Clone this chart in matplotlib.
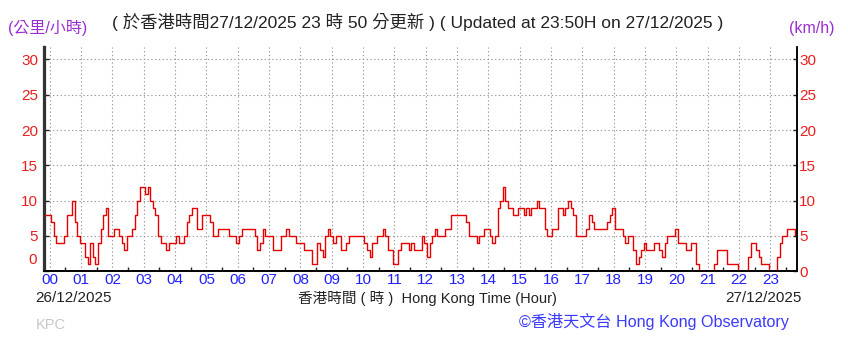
import numpy as np
import matplotlib
matplotlib.use('Agg')
import matplotlib.pyplot as plt
from matplotlib.ticker import FuncFormatter

# wind speed (km/h), 5-minute readings from 23:50 on 26/12 to 23:50 on 27/12
start_min = -10
step_min = 5
speed = [
    8, 8,
    8, 7, 5, 4, 4, 4, 5, 8, 8, 10, 7, 5,      # 00
    4, 4, 2, 1, 4, 2, 1, 4, 6, 8, 9, 5,       # 01
    5, 6, 6, 5, 4, 3, 5, 5, 6, 8, 10, 12,     # 02
    12, 11, 12, 10, 9, 8, 5, 4, 4, 3, 4, 4,   # 03
    4, 5, 4, 4, 5, 7, 8, 9, 9, 6, 6, 8,       # 04
    8, 8, 7, 5, 5, 6, 6, 6, 6, 5, 5, 5,       # 05
    4, 5, 6, 6, 6, 6, 6, 5, 3, 4, 6, 5,       # 06
    5, 5, 3, 3, 3, 5, 5, 6, 5, 5, 5, 4,       # 07
    4, 4, 3, 3, 3, 1, 1, 4, 3, 2, 5, 6,       # 08
    5, 4, 5, 5, 3, 3, 4, 5, 5, 5, 5, 5,       # 09
    5, 4, 3, 2, 4, 4, 5, 5, 6, 5, 3, 3,       # 10
    1, 1, 3, 4, 4, 4, 3, 4, 3, 3, 3, 5,       # 11
    4, 2, 4, 5, 6, 5, 5, 5, 6, 6, 8, 8,       # 12
    8, 8, 8, 8, 7, 5, 5, 5, 4, 5, 5, 6,       # 13
    6, 5, 4, 5, 9, 10, 12, 10, 9, 9, 8, 8,    # 14
    9, 9, 8, 9, 8, 9, 9, 10, 9, 9, 6, 5,      # 15
    5, 6, 6, 9, 9, 8, 9, 10, 9, 8, 5, 5,      # 16
    5, 5, 6, 8, 7, 6, 6, 6, 6, 6, 7, 8,       # 17
    9, 6, 6, 6, 5, 4, 5, 5, 3, 1, 2, 3,       # 18
    4, 3, 3, 3, 4, 4, 3, 2, 4, 5, 5, 5,       # 19
    6, 4, 4, 4, 3, 3, 4, 4, 1, 0, 0, 0,       # 20
    0, 0, 0, 1, 3, 3, 3, 3, 1, 1, 1, 1,       # 21
    0, 0, 0, 0, 2, 4, 4, 3, 2, 1, 1, 1,       # 22
    0, 0, 0, 2, 4, 5, 5, 6, 6, 6, 5,          # 23
]
hour_labels = ['%02d' % h for h in range(24)]
y_ticks = [0, 5, 10, 15, 20, 25, 30]

title = '( 於香港時間27/12/2025 23 時 50 分更新 ) ( Updated at 23:50H on 27/12/2025 )'
unit_left = '(公里/小時)'
unit_right = '(km/h)'
xlabel = '香港時間 ( 時 )  Hong Kong Time (Hour)'
date_left = '26/12/2025'
date_right = '27/12/2025'
credit = '©香港天文台 Hong Kong Observatory'

fam = ['Liberation Sans Narrow', 'Liberation Sans', 'Noto Sans CJK TC', 'DejaVu Sans']
plt.rcParams['font.family'] = fam

red = '#e82020'
t = start_min + step_min * np.arange(len(speed))

fig = plt.figure(figsize=(8.48, 3.58), dpi=100)
ax = fig.add_axes([44.5 / 848, 1 - 271.3 / 358, 752 / 848, (271.3 - 46.7) / 358])

ax.plot(t, speed, color='#e80000', lw=1.0, zorder=3, drawstyle='steps-mid')

ax.set_xlim(-10, 1430)
ax.set_ylim(0, 31.8)

# grid
ax.set_xticks(np.arange(0, 1440, 60))
ax.set_xticks(np.arange(30, 1440, 60), minor=True)
ax.set_yticks(y_ticks)
ax.grid(True, which='major', color='#999999', lw=0.8, linestyle=(0, (1.2, 2.2)))

ax.set_xticklabels(hour_labels)
ax.tick_params(axis='x', which='major', direction='in', length=0, pad=1,
               labelsize=11, labelcolor='#2020ff')
ax.tick_params(axis='x', which='minor', direction='in', length=3, width=1, color='#222222')
ax.tick_params(axis='y', direction='in', length=3, width=1, color='#222222',
               labelsize=11, labelcolor=red, pad=4.5)
# left "0" is drawn separately, a bit above the axis
ax.yaxis.set_major_formatter(FuncFormatter(lambda v, p: '' if v == 0 else '%d' % v))

ax2 = ax.twinx()
ax2.set_ylim(0, 31.8)
ax2.set_yticks(y_ticks)
ax2.tick_params(axis='y', direction='in', length=3, width=1, color='#222222',
                labelsize=11, labelcolor=red, pad=2)

for a in (ax, ax2):
    a.spines['top'].set_visible(False)
    a.spines['left'].set_linewidth(1.6)
    a.spines['left'].set_color('#333333')
    a.spines['right'].set_linewidth(1.1)
    a.spines['bottom'].set_linewidth(1.2)

fig.text(37 / 848, 1 - 260 / 358, '0', color=red, fontsize=11, ha='right', va='center')

fig.text(418 / 848, 1 - 22 / 358, title, fontsize=12.5, color='#222222', ha='center', va='center')
fig.text(8 / 848, 1 - 28 / 358, unit_left, fontsize=11.5, color='#9a2fd0', ha='left', va='center')
fig.text(835 / 848, 1 - 28 / 358, unit_right, fontsize=11.5, color='#9a2fd0', ha='right', va='center')

fig.text(35 / 848, 1 - 298 / 358, date_left, fontsize=11, color='#222222', ha='left', va='center')
fig.text(427 / 848, 1 - 298 / 358, xlabel, fontsize=10.5, color='#222222', ha='center', va='center')
fig.text(802 / 848, 1 - 298 / 358, date_right, fontsize=11, color='#222222', ha='right', va='center')
fig.text(36 / 848, 1 - 325 / 358, 'KPC', fontsize=10.5, color='#c8c8c8', ha='left', va='center')
fig.text(789 / 848, 1 - 322 / 358, credit, fontsize=11.6, color='#3a3aff', ha='right', va='center')

fig.savefig('out.png', dpi=100)
